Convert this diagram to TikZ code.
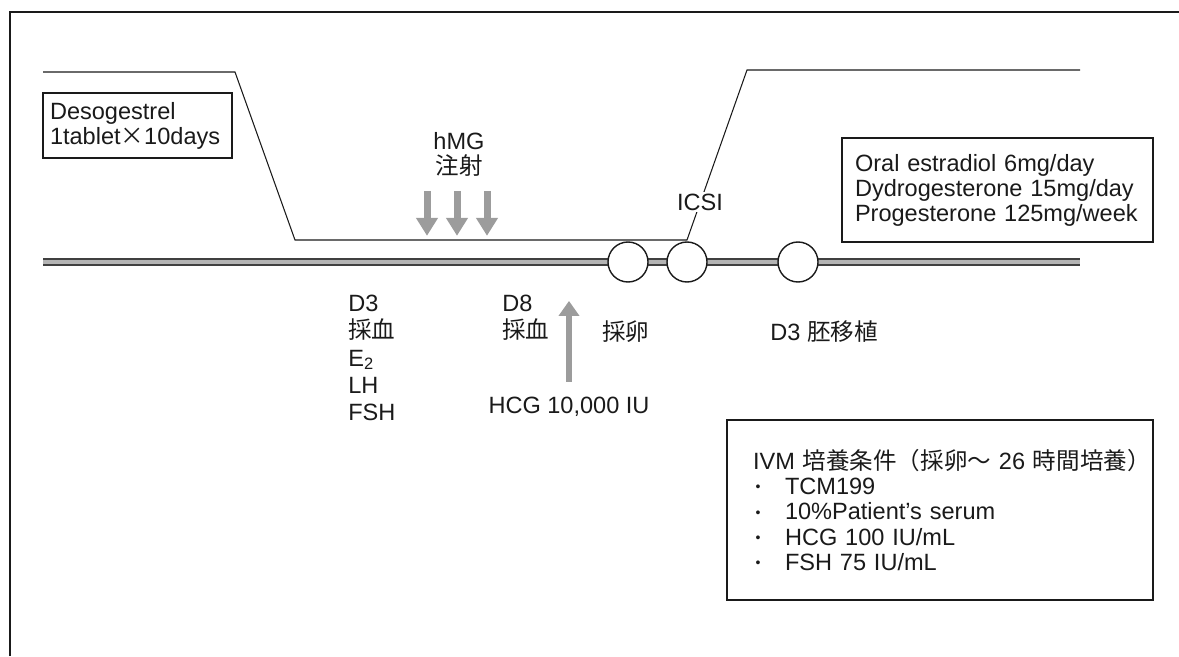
\documentclass[tikz,border=0pt]{standalone}
\usepackage{fontspec}
\setmainfont{Liberation Sans}
\newfontfamily\jafont{Noto Sans CJK JP}
\newcommand{\ja}[1]{{\jafont #1}}
\usetikzlibrary{arrows.meta}
\definecolor{doseGray}{HTML}{9C9C9C}
\definecolor{barGray}{HTML}{B4B4B4}
\definecolor{inkBlack}{HTML}{1A1A1A}
\newcommand{\ivmitem}{\makebox[0.64cm][l]{\hspace{0.05cm}%
  \raisebox{1.6pt}{\footnotesize\textbullet}}}
\tikzset{
  every node/.style={font=\fontsize{13.4}{14.2}\selectfont, text=inkBlack},
  box/.style={draw=inkBlack, thick, align=left, inner sep=0pt},
  note/.style={align=left, inner sep=0pt},
  column/.style={note, font=\fontsize{13.4}{15.6}\selectfont},
  egg/.style={circle, draw=inkBlack, thick, fill=white, minimum size=8mm,
              inner sep=0pt},
  course/.style={inkBlack, semithick},
  timeline/.style={draw=black!75, line width=0.4mm, double=barGray,
                   double distance=0.8mm},
  dose/.style={doseGray, line width=1.4mm, -{Triangle[length=3.6mm, width=4.2mm]}},
  hcgdose/.style={doseGray, line width=1.3mm, -{Triangle[length=3mm, width=4mm]}},
  frame/.style={inkBlack, line width=0.8pt},
}

\begin{document}
\begin{tikzpicture}
\useasboundingbox (0,0) rectangle (23.58,13.12);

% ---------------------------------------------------------------- the frame
\draw[frame] (0.2,0) -- (0.2,12.88) -- (23.58,12.88);

% ------------------------------------------------- the time line and the eggs
\coordinate (t0) at (0.86,7.88);
\coordinate (t1) at (21.6,7.88);
\draw[timeline] (t0) -- (t1);
\foreach \i/\x in {1/12.56, 2/13.74, 3/15.96}
  \node[egg] (egg\i) at (\x,7.88) {};

% ------------------------------------------------------- the hormone course
\coordinate (c1) at (0.86,11.68);
\coordinate (c2) at (4.70,11.68);
\coordinate (c3) at (5.90,8.32);
\coordinate (c5) at (14.94,11.72);
\coordinate (c6) at (21.60,11.72);
\draw[course] (c1) -- (c2) -- (c3) -- (c3 -| egg2) -- (c5) -- (c6);
\node[fill=white, inner sep=1pt] (icsi) at (14.0,9.08) {ICSI};

% ---------------------------------------------------------------- the drugs
\node[box, minimum width=3.78cm, minimum height=1.3cm, text width=3.5cm]
  (deso) at (2.75,10.61) {Desogestrel\\1tablet\ja{×}10days};
\node[box, minimum width=6.22cm, minimum height=2.08cm, text width=5.7cm]
  (luteal) at (19.95,9.32)
  {Oral estradiol 6mg/day\\Dydrogesterone 15mg/day\\Progesterone 125mg/week};

% the hMG injections
\node[note, align=center] (hmg) at (9.18,10.03) {hMG\\\ja{注射}};
\foreach \dx in {-0.64,-0.04,0.56}
  \draw[dose] ([xshift=\dx cm, yshift=-2.8mm]hmg.south) -- ++(0,-0.9);

% ------------------------------------------------------ under the time line
\node[column, anchor=north west] (d3) at (6.96,7.23)
  {D3\\\ja{採血}\\E\textsubscript{2}\\LH\\FSH};
\node[column, anchor=north west] (d8) at (10.04,7.23) {D8\\\ja{採血}};
\node[note, anchor=west] (opu) at (12.04,6.48) {\ja{採卵}};
\node[note] (hcg) at (11.38,4.98) {HCG 10,000 IU};
\draw[hcgdose] ([yshift=3mm]hcg.north) -- ++(0,1.62);
\node[note, anchor=west] (et) at (15.4,6.48) {D3 \ja{胚移植}};

% ------------------------------------------------------- the IVM conditions
\node[box, minimum width=8.52cm, minimum height=3.6cm, text width=7.48cm,
      font=\fontsize{13.4}{14.4}\selectfont] (ivm) at (18.8,2.92)
  {\mbox{IVM \ja{培養条件（採卵～} 26 \ja{時間培養）}}\\
   \ivmitem TCM199\\
   \ivmitem 10\%Patient's serum\\
   \ivmitem HCG 100 IU/mL\\
   \ivmitem FSH 75 IU/mL};

\end{tikzpicture}
\end{document}
